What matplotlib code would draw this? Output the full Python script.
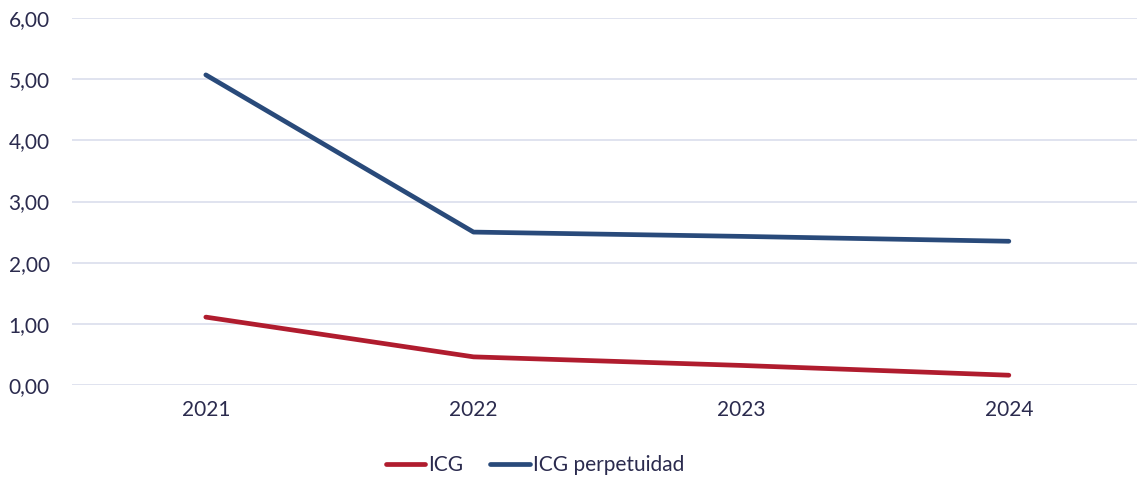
import matplotlib
matplotlib.use("Agg")
import matplotlib.pyplot as plt

years = ["2021", "2022", "2023", "2024"]
icg = [1.11, 0.46, 0.32, 0.16]
icg_perpetuidad = [5.07, 2.50, 2.43, 2.35]
y_ticks = [0, 1, 2, 3, 4, 5, 6]
y_labels = ["0,00", "1,00", "2,00", "3,00", "4,00", "5,00", "6,00"]

plt.rcParams["font.family"] = ["Lato", "DejaVu Sans"]
text_color = "#2b2b4e"
red = "#b01c2e"
blue = "#294a7a"
grid_color = "#dde0ee"

fig = plt.figure(figsize=(11.37, 4.82), dpi=100)
ax = fig.add_axes([72 / 1137, 1 - 385 / 482, 1 - 72 / 1137 + 0.005, (385 - 18) / 482])

x = list(range(len(years)))
ax.plot(x, icg, color=red, lw=3.4, solid_capstyle="round", label="ICG")
ax.plot(x, icg_perpetuidad, color=blue, lw=3.4, solid_capstyle="round", label="ICG perpetuidad")

ax.set_xlim(-0.5, 3.5)
ax.set_ylim(0, 6)
ax.set_xticks(x)
ax.set_xticklabels(years)
ax.set_yticks(y_ticks)
ax.set_yticklabels(y_labels)
ax.tick_params(axis="both", length=0, labelsize=15, colors=text_color)
ax.tick_params(axis="x", pad=11)
ax.tick_params(axis="y", pad=16)
ax.grid(axis="y", color=grid_color, lw=1.3)
ax.set_axisbelow(True)
for s in ax.spines.values():
    s.set_visible(False)

leg = fig.legend(loc="center", bbox_to_anchor=(535 / 1137, 1 - 465 / 482), ncol=2, frameon=False,
                 fontsize=15, handlelength=1.9, handletextpad=0.15, columnspacing=1.3)
for t in leg.get_texts():
    t.set_color(text_color)

fig.savefig("out.png", dpi=100)
